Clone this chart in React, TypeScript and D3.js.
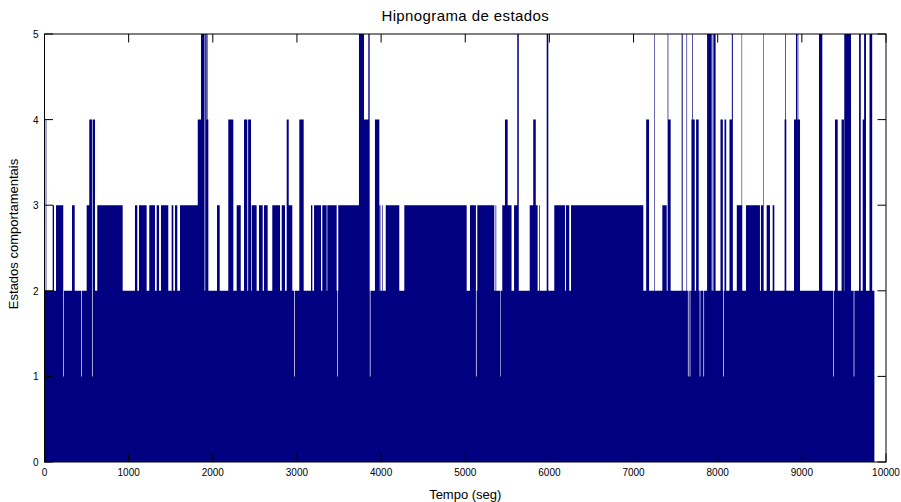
import { useMemo } from 'react'
import * as d3 from 'd3'

// hypnogram: baseline state 2, with excursions (seconds)
const END_TIME = 9862
const BASE_STATE = 2

const level3Spans: [number, number][] = [
  [97, 113], [137, 223], [327, 359], [501, 541], [627, 929], [1075, 1103], [1123, 1214],
  [1245, 1313], [1333, 1361], [1384, 1471], [1511, 1531], [1551, 1578], [1610, 1821],
  [2050, 2082], [2284, 2332], [2462, 2521], [2549, 2593], [2608, 2652], [2707, 2799],
  [2819, 2858], [2902, 2945], [3167, 3183], [3203, 3286], [3301, 3353], [3361, 3472],
  [3491, 3737], [3982, 3992], [4010, 4018], [4055, 4216], [4276, 5017], [5056, 5128],
  [5143, 5345], [5360, 5368], [5440, 5472], [5504, 5550], [5580, 5618], [5766, 5808],
  [5838, 5860], [5880, 5888], [6058, 6186], [6197, 6236], [6257, 7116], [7342, 7394],
  [8227, 8292], [8336, 8502], [8514, 8542], [8582, 8621], [8653, 8673],
]

const level4Spans: [number, number][] = [
  [14, 22], [532, 600], [1821, 1860], [1927, 1947], [2184, 2244], [2371, 2410], [2420, 2454],
  [2878, 2902], [3028, 3080], [3797, 3848], [3927, 3979], [5472, 5504], [5808, 5838],
  [7150, 7184], [7413, 7441], [7688, 7727], [7743, 7774], [8033, 8061], [8081, 8101],
  [8140, 8168], [8795, 8815], [8907, 8978], [9394, 9426], [9472, 9500], [9723, 9740],
]

const level5Spans: [number, number][] = [
  [1860, 1902], [1910, 1927], [1936, 1942], [3737, 3797], [3848, 3864], [5618, 5636],
  [5968, 5987], [7248, 7255], [7405, 7413], [7572, 7584], [7629, 7636], [7697, 7705],
  [7874, 7929], [7940, 7948], [7952, 7975], [8168, 8180], [8284, 8290], [8540, 8546],
  [8800, 8808], [8930, 8946], [8952, 8958], [9204, 9243], [9504, 9584], [9680, 9700],
  [9740, 9762], [9804, 9836],
]

const level1Dips: [number, number][] = [
  [224, 232], [436, 444], [564, 572], [2967, 2975], [3480, 3488], [3866, 3874],
  [5127, 5135], [5418, 5424], [7646, 7654], [7667, 7675], [7786, 7794], [7830, 7838],
  [8063, 8071], [9370, 9378], [9616, 9624],
]

const layers: { value: number; spans: [number, number][] }[] = [
  { value: 3, spans: level3Spans },
  { value: 4, spans: level4Spans },
  { value: 5, spans: level5Spans },
  { value: 1, spans: level1Dips },
]

const xTicks = [0, 1000, 2000, 3000, 4000, 5000, 6000, 7000, 8000, 9000, 10000]
const yTicks = [0, 1, 2, 3, 4, 5]

const W = 901
const H = 502
const margin = { top: 34, right: 15, bottom: 40, left: 44.5 }
const FONT = '"Liberation Sans", Arial, Helvetica, sans-serif'
const NAVY = '#000080'

function buildSteps() {
  const bounds = new Set<number>([0, END_TIME])
  layers.forEach((l) => l.spans.forEach(([a, b]) => { bounds.add(a); bounds.add(b) }))
  const b = Array.from(bounds).sort((p, q) => p - q)
  const pts: { t: number; v: number }[] = []
  for (let i = 0; i < b.length - 1; i++) {
    const m = (b[i] + b[i + 1]) / 2
    let v = BASE_STATE
    for (const l of layers) {
      if (l.spans.some(([s, e]) => m >= s && m < e)) v = l.value
    }
    pts.push({ t: b[i], v })
  }
  pts.push({ t: END_TIME, v: pts[pts.length - 1].v })
  return pts
}

export default function App() {
  const innerW = W - margin.left - margin.right
  const innerH = H - margin.top - margin.bottom
  const x = d3.scaleLinear().domain([0, 10000]).range([0, innerW])
  const y = d3.scaleLinear().domain([0, 5]).range([innerH, 0])

  const pathD = useMemo(() => {
    const steps = buildSteps()
    const area = d3
      .area<{ t: number; v: number }>()
      .x((d) => x(d.t))
      .y0(y(0))
      .y1((d) => y(d.v))
      .curve(d3.curveStepAfter)
    return area(steps) ?? ''
  }, [])

  const tick = 8.5

  return (
    <svg
      width={W}
      height={H}
      style={{ position: 'absolute', left: 0, top: 0, background: '#fff', display: 'block' }}
    >
      <rect width={W} height={H} fill="#fff" />
      <text
        x={margin.left + innerW / 2}
        y={21}
        textAnchor="middle"
        fontFamily={FONT}
        fontSize={15}
        letterSpacing={0.4}
        fill="#000"
      >
        Hipnograma de estados
      </text>
      <g transform={`translate(${margin.left},${margin.top})`}>
        <path d={pathD} fill={NAVY} stroke="none" />
        <rect x={0} y={0} width={innerW} height={innerH} fill="none" stroke="#000" strokeWidth={1} />
        {xTicks.map((t) => (
          <g key={`x${t}`}>
            <line x1={x(t)} x2={x(t)} y1={innerH} y2={innerH - tick} stroke="#000" />
            <line x1={x(t)} x2={x(t)} y1={0} y2={tick} stroke="#000" />
            <text
              x={x(t)}
              y={innerH + 14}
              textAnchor="middle"
              fontFamily={FONT}
              fontSize={10}
              fill="#000"
            >
              {t}
            </text>
          </g>
        ))}
        {yTicks.map((v) => (
          <g key={`y${v}`}>
            <line x1={0} x2={tick} y1={y(v)} y2={y(v)} stroke="#000" />
            <line x1={innerW} x2={innerW - tick} y1={y(v)} y2={y(v)} stroke="#000" />
            <text
              x={-6}
              y={y(v) + 4}
              textAnchor="end"
              fontFamily={FONT}
              fontSize={10}
              fill="#000"
            >
              {v}
            </text>
          </g>
        ))}
        <text
          x={innerW / 2}
          y={innerH + 37}
          textAnchor="middle"
          fontFamily={FONT}
          fontSize={13}
          fill="#000"
        >
          Tempo (seg)
        </text>
        <text
          transform={`translate(${-27},${innerH / 2 - 14}) rotate(-90)`}
          textAnchor="middle"
          fontFamily={FONT}
          fontSize={13}
          fill="#000"
        >
          Estados comportamentais
        </text>
      </g>
    </svg>
  )
}
